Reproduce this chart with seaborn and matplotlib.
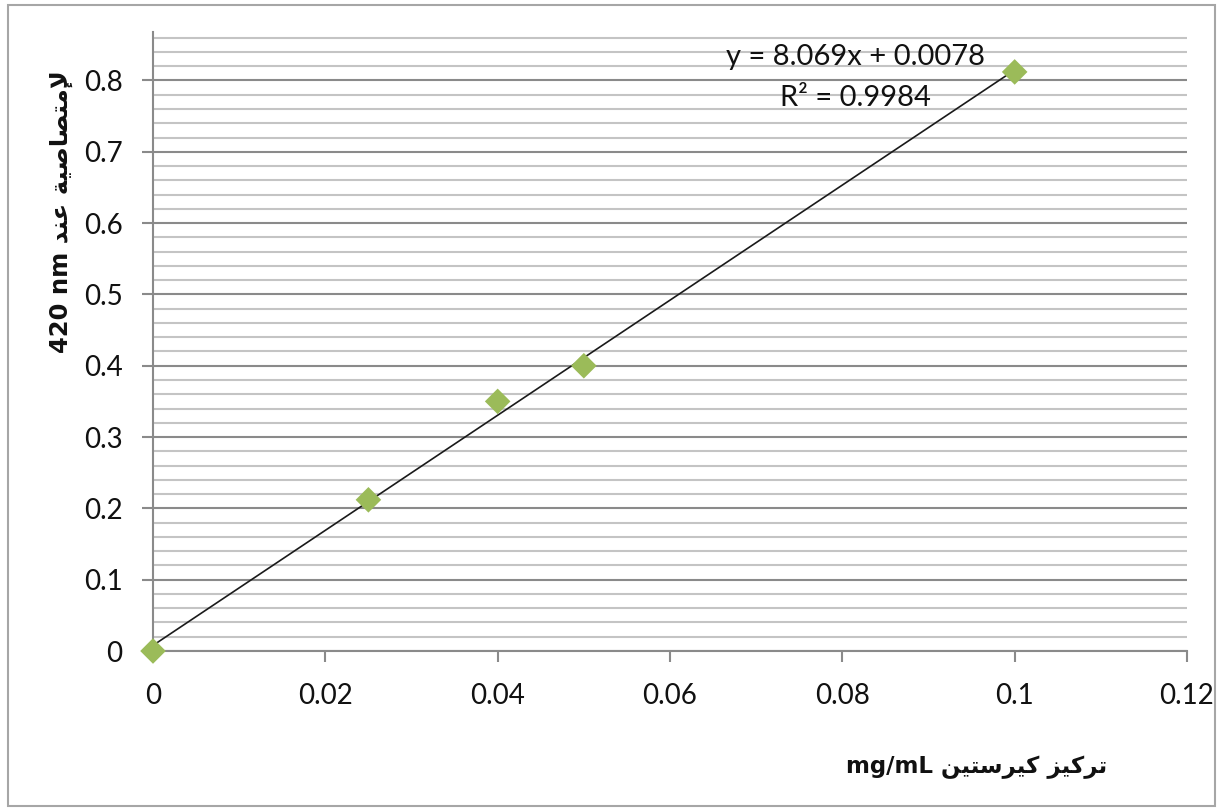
import matplotlib
matplotlib.use("Agg")
import matplotlib.pyplot as plt
from matplotlib.patches import Rectangle
from matplotlib.ticker import FixedLocator, MultipleLocator
import numpy as np
import pandas as pd
import seaborn as sns

# ---- data ----
concentration = [0.0, 0.025, 0.04, 0.05, 0.1]
absorbance = [0.0, 0.212, 0.35, 0.40, 0.812]
x_ticks = [0, 0.02, 0.04, 0.06, 0.08, 0.10, 0.12]
x_tick_labels = ["0", "0.02", "0.04", "0.06", "0.08", "0.1", "0.12"]
y_ticks = [0, 0.1, 0.2, 0.3, 0.4, 0.5, 0.6, 0.7, 0.8]
y_tick_labels = ["0", "0.1", "0.2", "0.3", "0.4", "0.5", "0.6", "0.7", "0.8"]
equation_text = "y = 8.069x + 0.0078"
r2_text = "R\u00b2 = 0.9984"
x_label_ar = ["تركيز", "كيرستين"]
x_label_latin = "mg/mL"
y_label_ar = ["لإمتصاصية", "عند"]
y_label_latin = "420 nm"

# ---- minimal Arabic shaping (matplotlib has no complex text layout) ----
FORMS = {
    'ا': ('\uFE8D', '\uFE8E', None, None),
    'إ': ('\uFE87', '\uFE88', None, None),
    'ل': ('\uFEDD', '\uFEDE', '\uFEDF', '\uFEE0'),
    'م': ('\uFEE1', '\uFEE2', '\uFEE3', '\uFEE4'),
    'ت': ('\uFE95', '\uFE96', '\uFE97', '\uFE98'),
    'ص': ('\uFEB9', '\uFEBA', '\uFEBB', '\uFEBC'),
    'ي': ('\uFEF1', '\uFEF2', '\uFEF3', '\uFEF4'),
    'ة': ('\uFE93', '\uFE94', None, None),
    'ع': ('\uFEC9', '\uFECA', '\uFECB', '\uFECC'),
    'ن': ('\uFEE5', '\uFEE6', '\uFEE7', '\uFEE8'),
    'د': ('\uFEA9', '\uFEAA', None, None),
    'ر': ('\uFEAD', '\uFEAE', None, None),
    'ك': ('\uFED9', '\uFEDA', '\uFEDB', '\uFEDC'),
    'ز': ('\uFEAF', '\uFEB0', None, None),
    'س': ('\uFEB1', '\uFEB2', '\uFEB3', '\uFEB4'),
    'لإ': ('\uFEF9', '\uFEFA', None, None),
    'لا': ('\uFEFB', '\uFEFC', None, None),
}


def shape_word(word):
    letters = []
    i = 0
    while i < len(word):
        if word[i] == 'ل' and i + 1 < len(word) and word[i + 1] in 'اإ':
            letters.append(word[i:i + 2])
            i += 2
        else:
            letters.append(word[i])
            i += 1
    out = []
    for k, ch in enumerate(letters):
        f = FORMS[ch]
        prev_joins = k > 0 and FORMS[letters[k - 1]][2] is not None
        next_joins = k < len(letters) - 1 and f[2] is not None
        if prev_joins and next_joins:
            g = f[3]
        elif prev_joins:
            g = f[1]
        elif next_joins:
            g = f[2]
        else:
            g = f[0]
        out.append(g)
    return "".join(reversed(out))


def visual(ar_words, latin):
    return latin + " " + " ".join(shape_word(w) for w in reversed(ar_words))


# ---- style ----
sns.set_theme(style="white")
plt.rcParams['font.family'] = ['Lato', 'DejaVu Sans']

W, H = 1223, 808
fig = plt.figure(figsize=(W / 100, H / 100), dpi=100)
ax = fig.add_axes([153 / W, (808 - 651) / H, (1187 - 153) / W, (651 - 32) / H])

df = pd.DataFrame({"conc": concentration, "abs": absorbance})

# gridlines
ax.set_xlim(0, 0.12)
ax.set_ylim(0, 0.868)
ax.yaxis.set_major_locator(FixedLocator(y_ticks))
ax.yaxis.set_minor_locator(MultipleLocator(0.02))
ax.grid(False)
ax.grid(True, axis="y", which="minor", color="#c4c4c4", linewidth=1.5, zorder=0)
ax.grid(True, axis="y", which="major", color="#8a8a8a", linewidth=1.5, zorder=0)
ax.set_axisbelow(True)

# trend line
sns.regplot(data=df, x="conc", y="abs", ax=ax, ci=None, scatter=False,
            truncate=True, line_kws=dict(color="#1a1a1a", linewidth=1.2, zorder=3))
# markers
sns.scatterplot(data=df, x="conc", y="abs", ax=ax, marker="D", s=170,
                color="#9BBB59", edgecolor="none", linewidth=0, zorder=4,
                clip_on=False, legend=False)

# ticks
ax.set_xticks(x_ticks)
ax.set_xticklabels(x_tick_labels)
ax.set_yticks(y_ticks)
ax.set_yticklabels(y_tick_labels)
ax.tick_params(axis="y", which="major", direction="out", length=8, width=1.5,
               color="#8a8a8a", left=True, labelsize=20, pad=14, labelcolor="#111111")
ax.tick_params(axis="y", which="minor", left=False, length=0)
ax.tick_params(axis="x", which="major", direction="out", length=8, width=1.5,
               color="#8a8a8a", bottom=True, labelsize=20, pad=15, labelcolor="#111111")

for s in ["top", "right"]:
    ax.spines[s].set_visible(False)
for s in ["left", "bottom"]:
    ax.spines[s].set_color("#8a8a8a")
    ax.spines[s].set_linewidth(1.5)

# axis labels
ax.set_xlabel(visual(x_label_ar, x_label_latin), family="DejaVu Sans",
              fontweight="bold", fontsize=16.5, color="#111111")
ax.xaxis.set_label_coords((977 - 153) / (1187 - 153), (651 - 756) / (651 - 32))
ax.set_ylabel(visual(y_label_ar, y_label_latin), family="DejaVu Sans",
              fontweight="bold", fontsize=17.5, color="#111111")
ax.yaxis.set_label_coords((73 - 153) / (1187 - 153), (651 - 212) / (651 - 32))

# regression annotation
ax.text(0.0815, 0.833, equation_text, fontsize=21, ha="center", va="center",
        color="#111111")
ax.text(0.0815, 0.776, r2_text, fontsize=21, ha="center", va="center",
        color="#111111")

# chart-area border
fig.patches.append(Rectangle((8 / W, 2 / H), 1207 / W, 801 / H,
                             transform=fig.transFigure, fill=False,
                             edgecolor="#a6a6a6", linewidth=1.5))

fig.savefig("out.png", dpi=100)
